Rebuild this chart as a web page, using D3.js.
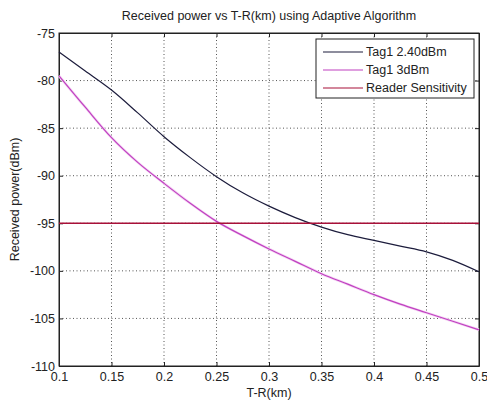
<!DOCTYPE html>
<html><head><meta charset="utf-8">
<script src="https://cdn.jsdelivr.net/npm/d3@7"></script>
<style>body{margin:0;background:#fff}svg{display:block;font-family:Arial,"Liberation Sans",sans-serif}</style>
</head><body><svg id="c" width="487" height="400"></svg>
<script>
const distances = [0.1,0.125,0.15,0.175,0.2,0.225,0.25,0.275,0.3,0.325,0.35,0.375,0.4,0.425,0.45,0.475,0.5];
const tag240 = [-77.0,-79.0,-81.0,-83.4,-85.9,-88.1,-90.1,-91.8,-93.2,-94.4,-95.4,-96.2,-96.8,-97.4,-98.0,-98.9,-100.1];
const tag3 = [-79.5,-82.8,-86.0,-88.6,-90.8,-92.9,-94.8,-96.3,-97.7,-99.0,-100.3,-101.4,-102.5,-103.5,-104.4,-105.3,-106.2];
const sensitivity = -95;
const xTicks = [0.1,0.15,0.2,0.25,0.3,0.35,0.4,0.45,0.5];
const yTicks = [-75,-80,-85,-90,-95,-100,-105,-110];
const seriesNames = ["Tag1 2.40dBm","Tag1 3dBm","Reader Sensitivity"];
const seriesColors = ["#1c1c3c","#c040c0","#a81038"];

const svg = d3.select("#c");
const L=59,R=479,T=33,B=366;
const x = d3.scaleLinear().domain([0.1,0.5]).range([L,R]);
const y = d3.scaleLinear().domain([-110,-75]).range([B,T]);
const fs = "12.5px";

// grid
const g = svg.append("g");
g.selectAll(".gx").data(xTicks.slice(1,-1)).enter().append("line")
 .attr("x1",d=>x(d)).attr("x2",d=>x(d)).attr("y1",T).attr("y2",B)
 .attr("stroke","#555").attr("stroke-width",1).attr("stroke-dasharray","1,2.5");
g.selectAll(".gy").data(yTicks.slice(1,-1)).enter().append("line")
 .attr("y1",d=>y(d)).attr("y2",d=>y(d)).attr("x1",L).attr("x2",R)
 .attr("stroke","#555").attr("stroke-width",1).attr("stroke-dasharray","1,2.5");

// axes
const ax = svg.append("g").attr("transform",`translate(0,${B})`)
 .call(d3.axisBottom(x).tickValues(xTicks).tickFormat(d=>String(d)).tickSizeInner(-4).tickSizeOuter(0).tickPadding(4));
const axT = svg.append("g").attr("transform",`translate(0,${T})`)
 .call(d3.axisTop(x).tickValues(xTicks).tickFormat("").tickSizeInner(-4).tickSizeOuter(0));
const ay = svg.append("g").attr("transform",`translate(${L},0)`)
 .call(d3.axisLeft(y).tickValues(yTicks).tickFormat(d=>String(d)).tickSizeInner(-4).tickSizeOuter(0).tickPadding(4));
const ayR = svg.append("g").attr("transform",`translate(${R},0)`)
 .call(d3.axisRight(y).tickValues(yTicks).tickFormat("").tickSizeInner(-4).tickSizeOuter(0));
[ax,axT,ay,ayR].forEach(a=>{
  a.selectAll("path").attr("stroke","#222");
  a.selectAll("line").attr("stroke","#222");
  a.selectAll("text").attr("fill","#222").style("font-size",fs);
});
ax.selectAll("text").attr("dy","0.9em");
svg.append("rect").attr("x",L).attr("y",T).attr("width",R-L).attr("height",B-T)
 .attr("fill","none").attr("stroke","#222");

// lines
const line = d3.line().x((d,i)=>x(distances[i])).y(d=>y(d)).curve(d3.curveMonotoneX);
svg.append("path").attr("d",line(tag3)).attr("fill","none").attr("stroke","#f4d4f4").attr("stroke-width",2.6);
svg.append("path").attr("d",line(tag3)).attr("fill","none").attr("stroke",seriesColors[1]).attr("stroke-width",1.2);
svg.append("path").attr("d",line(tag240)).attr("fill","none").attr("stroke",seriesColors[0]).attr("stroke-width",1.2);
svg.append("line").attr("x1",x(0.1)).attr("x2",x(0.5)).attr("y1",y(sensitivity)).attr("y2",y(sensitivity))
 .attr("stroke",seriesColors[2]).attr("stroke-width",1.5);

// title & labels
svg.append("text").attr("x",(L+R)/2).attr("y",20).attr("text-anchor","middle")
 .style("font-size",fs).attr("fill","#222").text("Received power vs T-R(km) using Adaptive Algorithm");
svg.append("text").attr("x",(L+R)/2).attr("y",397).attr("text-anchor","middle")
 .style("font-size",fs).attr("fill","#222").text("T-R(km)");
svg.append("text").attr("transform",`translate(19,${(T+B)/2}) rotate(-90)`).attr("text-anchor","middle")
 .style("font-size",fs).attr("fill","#222").text("Received power(dBm)");

// legend
const lg = svg.append("g");
lg.append("rect").attr("x",316).attr("y",39).attr("width",158).attr("height",59)
 .attr("fill","#fff").attr("stroke","#222");
seriesNames.forEach((n,i)=>{
  const yy = 52 + i*18;
  lg.append("line").attr("x1",323).attr("x2",363).attr("y1",yy).attr("y2",yy)
    .attr("stroke",seriesColors[i]).attr("stroke-width",1.2);
  lg.append("text").attr("x",366).attr("y",yy).attr("dy","0.35em")
    .style("font-size",fs).attr("fill","#222").text(n);
});
</script></body></html>
